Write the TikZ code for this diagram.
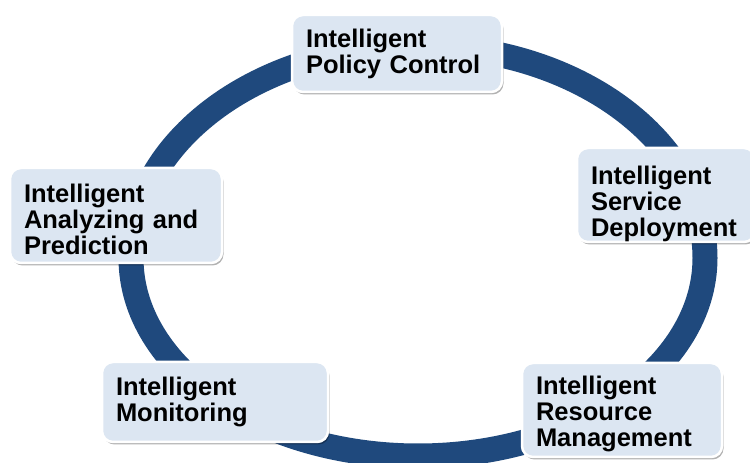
\documentclass[tikz,border=0pt]{standalone}
\usepackage{fontspec}
\setmainfont{Liberation Sans}
\usepackage{tikz}
\usetikzlibrary{shadows}
\definecolor{ringblue}{RGB}{31,73,125}
\definecolor{stagefill}{RGB}{220,230,242}

\begin{document}
\begin{tikzpicture}[x=1pt,y=1pt,
        stage/.style={draw=white, line width=2.5pt, fill=stagefill, rounded corners=11pt,
            inner xsep=14pt, inner ysep=4pt, align=left,
            font=\fontsize{25.5}{26}\bfseries\selectfont,
            drop shadow={shadow xshift=1.5pt, shadow yshift=-2.5pt, opacity=0.3, fill=black}},
        sink/.style={execute at end node={\endgraf\kern-#1}},
        ring/.style={draw=ringblue, line width=25pt}]
        \useasboundingbox (0,0) rectangle (750,463);
        % Ring
        \draw [ring] (131,205) arc[start angle=180, end angle=0, x radius=287pt, y radius=212pt]
            arc[start angle=0, end angle=-180, x radius=287pt, y radius=198pt] -- cycle;
        % Stages
        \node (policy) [stage, text width=182pt, minimum height=77pt] at (397,409.5) {Intelligent\\Policy Control};
        \node (service) [stage, sink=18pt, text width=150pt, minimum height=94pt] at (666,268) {Intelligent\\Service\\Deployment};
        \node (resource) [stage, sink=8pt, text width=172pt, minimum height=94pt] at (622,53) {Intelligent\\Resource\\Management};
        \node (monitor) [stage, text width=198pt, minimum height=80pt] at (215,61) {Intelligent\\Monitoring};
        \node (analyze) [stage, sink=8pt, text width=184pt, minimum height=95pt] at (116,247.5) {Intelligent\\Analyzing and\\Prediction};
    \end{tikzpicture}
\end{document}
